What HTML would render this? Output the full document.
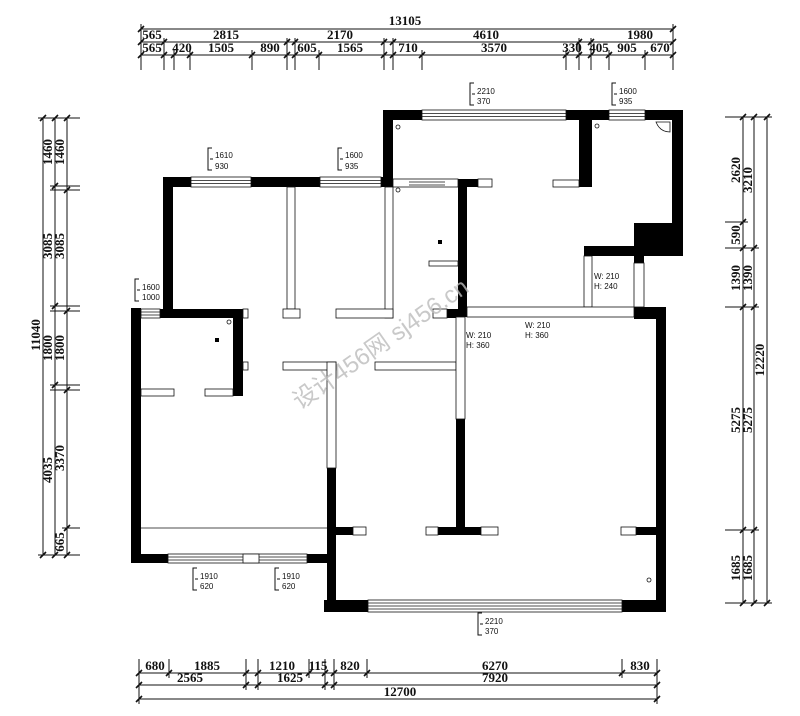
<!DOCTYPE html>
<html><head><meta charset="utf-8"><style>
html,body{margin:0;padding:0;background:#fff;}
svg{display:block;}
.d{font-family:"Liberation Serif",serif;font-size:13px;font-weight:bold;fill:#111;text-anchor:middle;}
.s{font-family:"Liberation Sans",sans-serif;font-size:8px;fill:#111;}
</style></head><body>
<svg width="800" height="716" viewBox="0 0 800 716" xmlns="http://www.w3.org/2000/svg">
<rect width="800" height="716" fill="#fff"/>
<g stroke="#111" stroke-width="1" fill="none">
<line x1="141" y1="29" x2="673" y2="29"/><line x1="141" y1="42" x2="673" y2="42"/><line x1="141" y1="55" x2="673" y2="55"/>
<path d="M141 24V70M164 38V70M174 50V70M190 50V70M252 50V70M287 38V70M295 38V70M319 50V70M384 38V70M393 38V70M422 50V70M566 50V70M579 38V70M591 38V70M609 50V70M645 50V70M673 24V70"/>
<line x1="43" y1="118" x2="43" y2="555"/><line x1="55" y1="118" x2="55" y2="555"/><line x1="67" y1="118" x2="67" y2="555"/>
<path d="M38 118H80M50 186H80M50 190H80M50 306H80M50 311H80M50 385H80M50 390H80M62 528H80M38 555H80"/>
<line x1="743" y1="117" x2="743" y2="603"/><line x1="754" y1="117" x2="754" y2="603"/><line x1="767" y1="117" x2="767" y2="603"/>
<path d="M725 117H772M725 222H748M725 248H759M725 307H759M725 530H759M725 603H772"/>
<line x1="139" y1="673" x2="657" y2="673"/><line x1="139" y1="685" x2="657" y2="685"/><line x1="139" y1="699" x2="657" y2="699"/>
<path d="M139 659V704M169 659V678M246 659V690M258 659V690M309 659V678M325 659V690M334 659V690M367 659V678M622 659V678M657 659V704"/>
</g>
<g stroke="#111" stroke-width="1.6">
<path d="M138 32l6-6M670 32l6-6
M138 45l6-6M161 45l6-6M284 45l6-6M292 45l6-6M381 45l6-6M390 45l6-6M576 45l6-6M588 45l6-6M670 45l6-6
M138 58l6-6M161 58l6-6M171 58l6-6M187 58l6-6M249 58l6-6M284 58l6-6M292 58l6-6M316 58l6-6M381 58l6-6M390 58l6-6M419 58l6-6M563 58l6-6M576 58l6-6M588 58l6-6M606 58l6-6M642 58l6-6M670 58l6-6
M40 121l6-6M40 558l6-6
M52 121l6-6M52 189l6-6M52 309l6-6M52 388l6-6M52 558l6-6
M64 121l6-6M64 193l6-6M64 314l6-6M64 393l6-6M64 531l6-6M64 558l6-6
M740 120l6-6M740 225l6-6M740 251l6-6M740 310l6-6M740 533l6-6M740 606l6-6
M751 120l6-6M751 251l6-6M751 310l6-6M751 533l6-6M751 606l6-6
M764 120l6-6M764 606l6-6
M136 676l6-6M166 676l6-6M243 676l6-6M255 676l6-6M306 676l6-6M322 676l6-6M331 676l6-6M364 676l6-6M619 676l6-6M654 676l6-6
M136 688l6-6M243 688l6-6M255 688l6-6M322 688l6-6M331 688l6-6M654 688l6-6
M136 702l6-6M654 702l6-6"/>
</g>
<g class="d">
<text x="405" y="25">13105</text>
<text x="152" y="39">565</text><text x="226" y="39">2815</text><text x="340" y="39">2170</text><text x="486" y="39">4610</text><text x="640" y="39">1980</text>
<text x="152" y="52">565</text><text x="182" y="52">420</text><text x="221" y="52">1505</text><text x="270" y="52">890</text><text x="307" y="52">605</text><text x="350" y="52">1565</text><text x="408" y="52">710</text><text x="494" y="52">3570</text><text x="572" y="52">330</text><text x="599" y="52">405</text><text x="627" y="52">905</text><text x="660" y="52">670</text>
<text transform="translate(40,335) rotate(-90)">11040</text>
<text transform="translate(52,152) rotate(-90)">1460</text><text transform="translate(64,152) rotate(-90)">1460</text>
<text transform="translate(52,246) rotate(-90)">3085</text><text transform="translate(64,246) rotate(-90)">3085</text>
<text transform="translate(52,348) rotate(-90)">1800</text><text transform="translate(64,348) rotate(-90)">1800</text>
<text transform="translate(52,470) rotate(-90)">4035</text><text transform="translate(64,458) rotate(-90)">3370</text>
<text transform="translate(64,542) rotate(-90)">665</text>
<text transform="translate(740,170) rotate(-90)">2620</text><text transform="translate(752,180) rotate(-90)">3210</text>
<text transform="translate(740,235) rotate(-90)">590</text>
<text transform="translate(740,278) rotate(-90)">1390</text><text transform="translate(752,278) rotate(-90)">1390</text>
<text transform="translate(740,420) rotate(-90)">5275</text><text transform="translate(752,420) rotate(-90)">5275</text>
<text transform="translate(740,568) rotate(-90)">1685</text><text transform="translate(752,568) rotate(-90)">1685</text>
<text transform="translate(764,360) rotate(-90)">12220</text>
<text x="155" y="670">680</text><text x="207" y="670">1885</text><text x="282" y="670">1210</text><text x="318" y="670">115</text><text x="350" y="670">820</text><text x="495" y="670">6270</text><text x="640" y="670">830</text>
<text x="190" y="682">2565</text><text x="290" y="682">1625</text><text x="495" y="682">7920</text>
<text x="400" y="696">12700</text>
</g>
<g fill="#000">
<rect x="163" y="177" width="230" height="10"/>
<rect x="163" y="177" width="10" height="141"/>
<rect x="160" y="309" width="82" height="9"/>
<rect x="131" y="308" width="10" height="255"/>
<rect x="233" y="309" width="10" height="87"/>
<rect x="383" y="110" width="10" height="77"/>
<rect x="383" y="110" width="300" height="10"/>
<rect x="672" y="110" width="11" height="146"/>
<rect x="579" y="110" width="13" height="77"/>
<rect x="634" y="223" width="49" height="33"/>
<rect x="584" y="246" width="50" height="10"/>
<rect x="634" y="256" width="10" height="7"/>
<rect x="458" y="179" width="9" height="138"/>
<rect x="458" y="179" width="20" height="8"/>
<rect x="634" y="307" width="32" height="12"/>
<rect x="656" y="307" width="10" height="303"/>
<rect x="131" y="554" width="196" height="9"/>
<rect x="327" y="468" width="9" height="144"/>
<rect x="324" y="600" width="342" height="12"/>
<rect x="336" y="527" width="17" height="8"/>
<rect x="438" y="527" width="43" height="8"/>
<rect x="456" y="419" width="9" height="108"/>
<rect x="636" y="527" width="20" height="8"/>
<rect x="447" y="309" width="18" height="9"/>
<rect x="438" y="240" width="4" height="4"/>
<rect x="215" y="338" width="4" height="4"/>
</g>
<g fill="#fff" stroke="#111" stroke-width="0.8">
<rect x="191" y="177" width="60" height="10"/><line x1="191" y1="180.5" x2="251" y2="180.5"/><line x1="191" y1="183.5" x2="251" y2="183.5"/>
<rect x="320" y="177" width="61" height="10"/><line x1="320" y1="180.5" x2="381" y2="180.5"/><line x1="320" y1="183.5" x2="381" y2="183.5"/>
<rect x="422" y="110" width="144" height="10"/><line x1="422" y1="113.5" x2="566" y2="113.5"/><line x1="422" y1="116.5" x2="566" y2="116.5"/>
<rect x="609" y="110" width="36" height="10"/><line x1="609" y1="113.5" x2="645" y2="113.5"/><line x1="609" y1="116.5" x2="645" y2="116.5"/>
<rect x="141" y="309" width="19" height="9"/><line x1="141" y1="312" x2="160" y2="312"/><line x1="141" y1="315" x2="160" y2="315"/>
<rect x="168" y="554" width="139" height="9"/><line x1="168" y1="557" x2="307" y2="557"/><line x1="168" y1="560" x2="307" y2="560"/>
<rect x="243" y="554" width="16" height="9"/>
<rect x="368" y="600" width="254" height="12"/><line x1="368" y1="603" x2="622" y2="603"/><line x1="368" y1="606" x2="622" y2="606"/><line x1="368" y1="609" x2="622" y2="609"/>
<rect x="393" y="179" width="65" height="8"/><line x1="409" y1="182" x2="445" y2="182"/><line x1="409" y1="185" x2="445" y2="185"/>
<rect x="478" y="179" width="14" height="8"/>
<rect x="553" y="180" width="26" height="7"/>
<rect x="584" y="256" width="8" height="51"/>
<rect x="634" y="263" width="10" height="44"/>
<rect x="467" y="307" width="167" height="10"/>
<rect x="287" y="187" width="8" height="122"/>
<rect x="283" y="309" width="17" height="9"/>
<rect x="385" y="187" width="8" height="131"/>
<rect x="336" y="309" width="57" height="9"/>
<rect x="429" y="261" width="29" height="5"/>
<rect x="433" y="309" width="14" height="9"/>
<rect x="243" y="309" width="5" height="9"/>
<rect x="243" y="362" width="5" height="8"/>
<rect x="283" y="362" width="53" height="8"/>
<rect x="327" y="362" width="9" height="106"/>
<rect x="375" y="362" width="81" height="8"/>
<rect x="456" y="317" width="9" height="102"/>
<rect x="141" y="389" width="33" height="7"/>
<rect x="205" y="389" width="28" height="7"/>
<rect x="353" y="527" width="13" height="8"/>
<rect x="426" y="527" width="12" height="8"/>
<rect x="481" y="527" width="17" height="8"/>
<rect x="621" y="527" width="15" height="8"/>
<line x1="141" y1="528" x2="327" y2="528"/>
<circle cx="398" cy="127" r="2"/><circle cx="398" cy="190" r="2"/><circle cx="597" cy="126" r="2"/><circle cx="229" cy="322" r="2"/><circle cx="649" cy="580" r="2"/>
<path d="M656 122h14v10q-10 0-14-10z"/>
</g>
<g stroke="#111" stroke-width="1" fill="none">
<path d="M212 148h-4v22h4M210 159h3"/><path d="M342 148h-4v22h4M340 159h3"/>
<path d="M474 83h-4v22h4M472 94h3"/><path d="M616 83h-4v22h4M614 94h3"/>
<path d="M139 279h-4v22h4M137 290h3"/>
<path d="M197 568h-4v22h4M195 579h3"/><path d="M279 568h-4v22h4M277 579h3"/>
<path d="M482 613h-4v22h4M480 624h3"/>
</g>
<g class="s">
<text x="215" y="158">1610</text><text x="215" y="169">930</text>
<text x="345" y="158">1600</text><text x="345" y="169">935</text>
<text x="477" y="94">2210</text><text x="477" y="104">370</text>
<text x="619" y="94">1600</text><text x="619" y="104">935</text>
<text x="142" y="290">1600</text><text x="142" y="300">1000</text>
<text x="200" y="579">1910</text><text x="200" y="589">620</text>
<text x="282" y="579">1910</text><text x="282" y="589">620</text>
<text x="485" y="624">2210</text><text x="485" y="634">370</text>
<text x="594" y="279">W: 210</text><text x="594" y="289">H: 240</text>
<text x="466" y="338">W: 210</text><text x="466" y="348">H: 360</text>
<text x="525" y="328">W: 210</text><text x="525" y="338">H: 360</text>
</g>
<text transform="translate(300,410) rotate(-35)" font-family="Liberation Sans, Noto Sans CJK SC, sans-serif" font-size="24" fill="#bbb" fill-opacity="0.8">设计456网 sj456.cn</text>
</svg>
</body></html>
